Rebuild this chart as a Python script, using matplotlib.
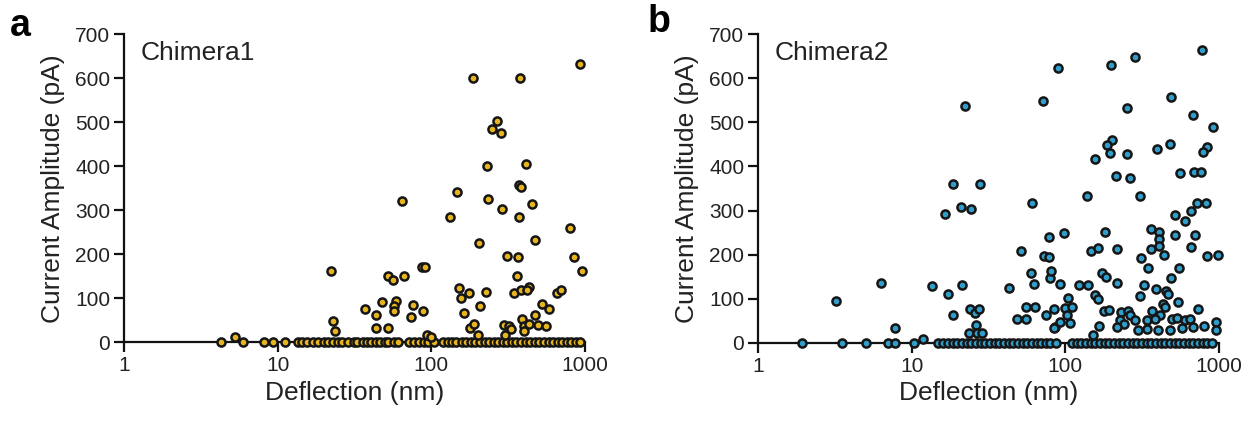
import matplotlib
matplotlib.use("Agg")
import matplotlib.pyplot as plt
from matplotlib.ticker import NullLocator, FixedLocator

plt.rcParams['font.family'] = ['Liberation Sans', 'DejaVu Sans']

# ---------------- data ----------------
# Chimera1: non-zero events (deflection nm, current pA)
a_x = [187, 379, 933, 267, 248, 284, 230, 415, 146.5, 64.4, 234, 372, 387, 452, 288,
       132, 373, 796, 204, 475, 313, 368, 853, 953, 362, 151, 175, 156, 229, 347,
       387, 430, 423, 658, 698, 208, 164, 528, 586, 389, 472, 179, 191, 298, 321,
       330, 402, 434, 497, 560, 399, 201, 301,
       22.3, 52.5, 56.8, 66.8, 87.5, 91, 47.5, 58.9, 57.4, 56.9, 36.8, 43.8, 75.6,
       73.4, 87.9, 23, 23.5, 43.6, 52.5, 94, 100, 5.24]
a_y = [601, 601, 632, 502, 484, 476, 401, 406, 342, 322, 326, 357, 352, 314, 302,
       285, 285, 260, 226, 233, 196, 194, 194, 163, 150, 123, 113, 102, 115, 112,
       118, 127, 118, 113, 118, 83, 67, 87, 77, 54, 62, 34, 41, 40, 37,
       30, 37, 42, 40, 37, 25, 16, 16,
       163, 151, 142, 152, 171, 171, 93, 95, 83, 72, 75, 62, 84,
       57, 71, 49, 27, 34, 34, 16, 13, 13]
# Chimera1: events with zero current
a_zero_x = [4.27, 5.91, 8.11, 9.33, 11.1, 13.6, 14.5, 15.6, 17.1, 18.4, 19.9, 21.4,
            23.1, 24.9, 26.4, 28.9, 31.2, 33.1, 35.7, 37.9, 40.3, 43.4, 46.1, 49.7,
            52.7, 56.9, 60.4, 71.3, 76.8, 82.8, 89.2, 94.8, 104, 119, 128, 136, 146,
            158, 168, 181, 192, 207, 223, 237, 255, 271, 292, 310, 334, 355, 383, 413,
            438, 472, 502, 541, 583, 620, 667, 709, 764, 811, 875, 929]

# Chimera2: non-zero events
b_x = [778, 285, 199, 89.5, 22.3, 71.8, 250, 489, 677, 916, 200, 187, 196, 253, 393,
       480, 834, 786, 156, 214, 263, 557, 690, 766, 18.5, 27.7, 60.6, 138, 306, 20.8,
       24.2, 715, 822,
       519, 600, 657, 98.4, 181, 359, 405, 408, 514, 700, 146, 162, 216, 359, 405,
       440, 657, 838, 988, 309, 345, 546, 172, 184, 216, 123, 140, 489, 157, 162,
       326, 306, 389, 451, 467, 538, 433, 444, 364, 413, 733, 178, 193, 229, 257,
       263, 227, 242, 284, 341, 383, 492, 530, 600, 647, 216, 295, 338, 402, 479,
       571, 679, 801, 954, 950, 104, 99, 110, 102, 86, 92, 107, 92, 79.4, 152, 166,
       16.5, 78.6, 51.2, 72.3, 77.9, 80.5, 59.5, 62.2, 6.31, 13.6, 21.1, 42.8, 17.3,
       23.9, 25.8, 27.5, 18.5, 55.7, 63.7, 74.5, 84.7, 84.7, 48.7, 55.4, 7.79, 26.2,
       23.7, 26.5, 28.5, 11.8, 3.22]
b_y = [664, 649, 629, 622, 538, 549, 532, 558, 516, 489, 459, 449, 430, 428, 440,
       450, 445, 432, 416, 378, 374, 384, 388, 388, 360, 360, 317, 332, 332, 308,
       303, 317, 317,
       291, 277, 300, 249, 251, 258, 251, 236, 244, 244, 208, 215, 212, 212, 220,
       200, 217, 197, 199, 192, 170, 169, 158, 149, 135, 131, 131, 148, 109, 99,
       131, 106, 122, 117, 110, 93, 88, 81, 73, 63, 78, 73, 75, 70, 73,
       63, 51, 43, 51, 51, 54, 54, 57, 52, 54, 37, 29, 31, 29, 29,
       34, 36, 39, 47, 29, 101, 79, 82, 63, 37, 48, 45, 133, 147, 18, 39,
       292, 239, 208, 197, 194, 164, 158, 133, 137, 130, 131, 125, 112,
       76, 67, 78, 63, 82, 82, 63, 78, 33, 54, 54, 33, 40,
       22, 23, 22, 10, 94]
b_zero_x = [1.94, 3.54, 5.05, 6.98, 7.82, 10.4, 14.8, 16.0, 17.2, 18.6, 19.7, 21.2,
            22.9, 24.3, 26.2, 28.2, 30.0, 32.3, 34.8, 37.0, 39.9, 43.0, 45.6, 49.2,
            53.0, 56.2, 60.6, 65.3, 69.4, 74.8, 79.4, 86.8, 110, 119, 126, 136, 147,
            156, 168, 181, 192, 207, 223, 237, 255, 275, 292, 315, 340, 360, 388, 419,
            444, 479, 517, 548, 591, 637, 676, 729, 786, 834, 899]

panel_titles = ['Chimera1', 'Chimera2']
panel_letters = ['a', 'b']
x_ticks = [1, 10, 100, 1000]
x_ticklabels = ['1', '10', '100', '1000']
y_ticks = [0, 100, 200, 300, 400, 500, 600, 700]

# ---------------- figure ----------------
fig = plt.figure(figsize=(12.48, 4.21), dpi=100)

colors = ['#E8B51E', '#2F9ECB']
positions = [[0.0994, 0.1865, 0.3692, 0.7327], [0.6074, 0.1853, 0.3694, 0.7339]]
datasets = [(a_x, a_y, a_zero_x), (b_x, b_y, b_zero_x)]

for i in range(2):
    ax = fig.add_axes(positions[i])
    xs, ys, zx = datasets[i]
    ax.scatter(zx, [0] * len(zx), s=34, facecolor=colors[i], edgecolor='#151515',
               linewidths=1.8, clip_on=False, zorder=3)
    ax.scatter(xs, ys, s=34, facecolor=colors[i], edgecolor='#151515',
               linewidths=1.8, clip_on=False, zorder=4)
    ax.set_xscale('log')
    ax.set_xlim(1, 1000)
    ax.set_ylim(0, 700)
    ax.xaxis.set_major_locator(FixedLocator(x_ticks))
    ax.set_xticklabels(x_ticklabels)
    ax.xaxis.set_minor_locator(NullLocator())
    ax.set_yticks(y_ticks)
    for s in ['top', 'right']:
        ax.spines[s].set_visible(False)
    for s in ['left', 'bottom']:
        ax.spines[s].set_linewidth(1.6)
        ax.spines[s].set_color('#111111')
    ax.tick_params(axis='both', direction='out', length=7, width=1.6,
                   labelsize=15, pad=3, colors='#111111', labelcolor='#222222')
    ax.set_xlabel('Deflection (nm)', fontsize=19, labelpad=4, color='#222222')
    ax.set_ylabel('Current Amplitude (pA)', fontsize=19, labelpad=7, color='#222222')
    ax.text(0.037, 0.938, panel_titles[i], transform=ax.transAxes, fontsize=19,
            va='center', ha='left', color='#222222')

fig.text(10 / 1248, 1 - 8 / 421, 'a', fontsize=27, fontweight='bold', va='top', ha='left')
fig.text(648 / 1248, 1 - 4 / 421, 'b', fontsize=27, fontweight='bold', va='top', ha='left')

fig.savefig('out.png', dpi=100)
